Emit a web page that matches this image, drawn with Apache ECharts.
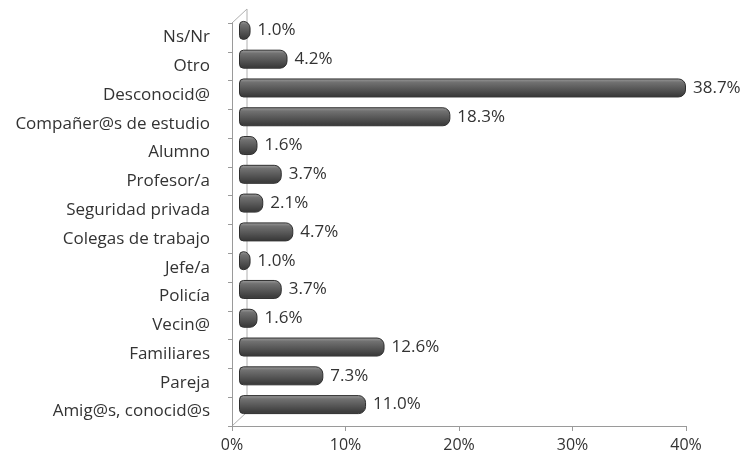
<!DOCTYPE html>
<html>
<head>
<meta charset="utf-8">
<script src="https://cdn.jsdelivr.net/npm/echarts@6/dist/echarts.min.js"></script>
<style>
  html, body { margin: 0; padding: 0; background: #fff; }
  #chart { width: 745px; height: 464px; }
</style>
</head>
<body>
<div id="chart"></div>
<script>
var categories = ['Ns/Nr', 'Otro', 'Desconocid@', 'Compañer@s de estudio', 'Alumno', 'Profesor/a',
    'Seguridad privada', 'Colegas de trabajo', 'Jefe/a', 'Policía', 'Vecin@', 'Familiares',
    'Pareja', 'Amig@s, conocid@s'];
var values = [1.0, 4.2, 38.7, 18.3, 1.6, 3.7, 2.1, 4.7, 1.0, 3.7, 1.6, 12.6, 7.3, 11.0];
var tickValues = [0, 10, 20, 30, 40];

var font = 'Open Sans';
var myChart = echarts.init(document.getElementById('chart'), null, {renderer: 'canvas'});

myChart.setOption({
    backgroundColor: '#fff',
    animation: false,
    grid: [
        // axes frame
        {left: 232, right: 59, top: 23, bottom: 38},
        // bars, shifted like the 3d excel depth
        {left: 239, right: 44, top: 16, bottom: 45}
    ],
    xAxis: [
        {
            gridIndex: 0,
            type: 'value',
            min: tickValues[0],
            max: tickValues[tickValues.length - 1],
            interval: 10,
            axisLine: {show: true, lineStyle: {color: '#9a9a9a', width: 1}},
            axisTick: {show: true, length: 5, lineStyle: {color: '#9a9a9a'}},
            splitLine: {show: false},
            axisLabel: {
                formatter: '{value}%',
                color: '#333',
                fontFamily: font,
                fontSize: 16,
                margin: 11
            }
        },
        {
            gridIndex: 1,
            type: 'value',
            min: 0,
            max: 40,
            show: false
        }
    ],
    yAxis: [
        {
            gridIndex: 0,
            type: 'category',
            inverse: true,
            data: categories,
            axisLine: {show: true, lineStyle: {color: '#9a9a9a', width: 1}},
            axisTick: {show: true, length: 4, lineStyle: {color: '#9a9a9a'}},
            axisLabel: {
                color: '#333',
                fontFamily: font,
                fontSize: 17,
                margin: 22
            }
        },
        {
            gridIndex: 1,
            type: 'category',
            inverse: true,
            data: categories,
            show: false
        }
    ],
    graphic: [
        {
            type: 'polyline',
            shape: {points: [[232, 23], [247, 9], [247, 412], [232, 426]]},
            style: {stroke: '#b0b0b0', lineWidth: 1, fill: null},
            z: 0
        }
    ],
    series: [
        {
            type: 'bar',
            xAxisIndex: 1,
            yAxisIndex: 1,
            data: values,
            barWidth: 19,
            z: 5,
            itemStyle: {
                color: new echarts.graphic.LinearGradient(0, 0, 0, 1, [
                    {offset: 0, color: '#a0a0a0'},
                    {offset: 0.2, color: '#717171'},
                    {offset: 0.55, color: '#575757'},
                    {offset: 0.9, color: '#3c3c3c'},
                    {offset: 1, color: '#4a4a4a'}
                ]),
                borderColor: '#2e2e2e',
                borderWidth: 1,
                borderRadius: [4, 7, 7, 4]
            },
            label: {
                show: true,
                position: 'right',
                distance: 7,
                color: '#333',
                fontFamily: font,
                fontSize: 17,
                formatter: function (p) {
                    return p.value.toFixed(1) + '%';
                }
            }
        }
    ]
});
</script>
</body>
</html>
